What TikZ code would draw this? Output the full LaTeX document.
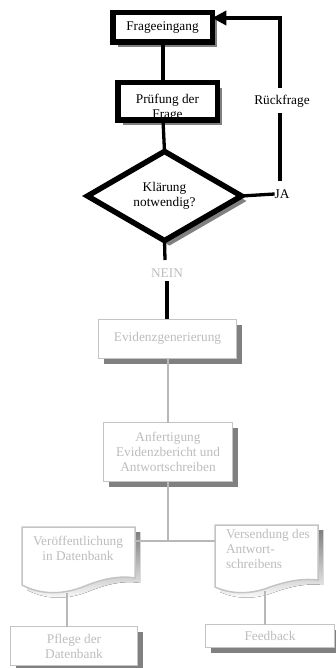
\documentclass[tikz,border=0pt]{standalone}
\usepackage{fontspec}
\setmainfont{Liberation Serif}
\usetikzlibrary{arrows.meta,shapes.geometric,shadows}

\definecolor{pale}{HTML}{C4C4C4}
\definecolor{paletext}{HTML}{BDBDBD}
\definecolor{paleline}{HTML}{B8B8B8}
\definecolor{shade}{HTML}{808080}

\begin{document}
\begin{tikzpicture}[x=1pt,y=-1pt,
  every node/.style={font=\fontsize{13.3}{15}\selectfont, align=center, inner sep=0pt, outer sep=0pt},
  boldbox/.style={rectangle, draw=black, line width=5.5pt, fill=white,
    drop shadow={shadow xshift=5pt, shadow yshift=-5pt, fill=shade, opacity=1}},
  palebox/.style={rectangle, draw=pale, line width=1.5pt, fill=white, text=paletext,
    drop shadow={shadow xshift=5pt, shadow yshift=-5pt, fill=shade, opacity=1}},
  boldline/.style={draw=black, line width=3.3pt},
  paleconn/.style={draw=paleline, line width=2pt},
  paletxt/.style={text=paletext},
]
\useasboundingbox (0,0) rectangle (336,668);

% --- upper part: intake and check ---
\node[boldbox, minimum width=99.5pt, minimum height=29.5pt] (frage) at (162.5,27.5) {Frageeingang};
\node[boldbox, minimum width=99.5pt, minimum height=37.5pt] (pruef) at (167.5,101.5) {};
\node (prueftxt) at (167.5,108) {Prüfung der\\Frage};
\draw[black, line width=5.5pt] (pruef.south west) rectangle (pruef.north east);

\node[diamond, draw=black, line width=5.5pt, fill=white, minimum width=154pt, minimum height=64pt,
  drop shadow={shadow xshift=5pt, shadow yshift=-5pt, fill=shade, opacity=1}] (klaer) at (164.5,196) {Klärung\\notwendig?};

\draw[boldline] (frage.south -| 163,0) -- (pruef.north -| 163,0);
\draw[boldline] (pruef.south -| 163,0) -- (klaer.north);

% --- loop back on "JA" ---
\node (ja) at (282,194) {JA};
\node (rueck) at (282,101) {Rückfrage};
\coordinate (jaTop) at (280,181);
\coordinate (rueckBot) at (280,113);
\coordinate (rueckTop) at (280,88);
\coordinate (corner) at (280,18);
\draw[boldline] (klaer.east) -- (ja.west);
\draw[boldline] (jaTop) -- (rueckBot);
\draw[boldline, -{Triangle[length=14pt,width=14pt]}] (rueckTop) -- (corner) -- (corner -| frage.east);

% --- "NEIN" branch ---
\node[paletxt] (nein) at (167,273) {NEIN};
\draw[boldline] (klaer.south) -- (165,260);
\draw[boldline] (167,281) -- (167,319);

\node[palebox, minimum width=138pt, minimum height=39pt] (evid) at (167.5,339) {\raisebox{5pt}{Evidenzgenerierung}};
\node[palebox, minimum width=129pt, minimum height=59pt] (anf) at (168,452)
  {Anfertigung\\Evidenzbericht und\\Antwortschreiben};
\draw[paleconn] (evid.south -| 168,0) -- (anf.north -| 168,0);

% --- document shapes ---
\coordinate (split) at (168,541);
\fill[shade, shift={(5,5)}] (22,527) -- (135,527) -- (135,578)
  .. controls (118,575) and (100,580) .. (85,586)
  .. controls (68,593) and (45,597) .. (22,585) -- cycle;
\draw[pale, line width=1.5pt, fill=white] (22,527) -- (135,527) -- (135,578)
  .. controls (118,575) and (100,580) .. (85,586)
  .. controls (68,593) and (45,597) .. (22,585) -- cycle;
\node[paletxt] (veroeff) at (78,548) {Veröffentlichung\\in Datenbank};
\coordinate (veroeffR) at (135,541);
\coordinate (veroeffB) at (67,593);

\fill[shade, shift={(5,5)}] (215,525) -- (318,525) -- (318,580)
  .. controls (300,578) and (285,582) .. (270,587)
  .. controls (255,593) and (235,596) .. (215,587) -- cycle;
\draw[pale, line width=1.5pt, fill=white] (215,525) -- (318,525) -- (318,580)
  .. controls (300,578) and (285,582) .. (270,587)
  .. controls (255,593) and (235,596) .. (215,587) -- cycle;
\node[paletxt, align=left, anchor=north west] (versend) at (226,529) {Versendung des\\Antwort-\\schreibens};
\coordinate (versendL) at (215,541);
\coordinate (versendB) at (265,591);

\draw[paleconn] (anf.south -| split) -- (split);
\draw[paleconn] (veroeffR) -- (versendL);

\node[palebox, minimum width=127pt, minimum height=39pt] (pflege) at (74,646) {Pflege der\\Datenbank};
\node[palebox, minimum width=129pt, minimum height=23pt] (feed) at (270,636) {Feedback};
\draw[paleconn] (veroeffB) -- (pflege.north -| veroeffB);
\draw[paleconn] (versendB) -- (feed.north -| versendB);
\end{tikzpicture}
\end{document}
